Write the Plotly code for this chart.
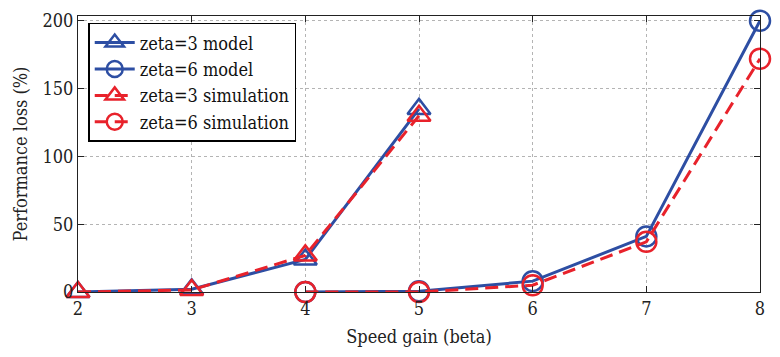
import plotly.graph_objects as go

beta_z3 = [2, 3, 4, 5]
z3_model = [0, 2, 24, 135]
z3_sim = [0, 1.5, 27, 130]

beta_z6 = [4, 5, 6, 7, 8]
z6_model = [0, 0.5, 8, 41, 200]
z6_sim = [0, 0, 5, 37, 172]

names = ["zeta=3 model", "zeta=6 model", "zeta=3 simulation", "zeta=6 simulation"]
x_ticks = [2, 3, 4, 5, 6, 7, 8]
y_ticks = [0, 50, 100, 150, 200]

BLUE = "#2d4ea3"
RED = "#e8222b"
FONT = "DejaVu Serif Condensed, DejaVu Serif"
TXT = "#222"

fig = go.Figure()
fig.add_trace(go.Scatter(x=beta_z3, y=z3_model, name=names[0], mode="lines+markers",
                         line=dict(color=BLUE, width=3),
                         marker=dict(symbol="triangle-up-open", size=20, color=BLUE, line=dict(width=2.5, color=BLUE)),
                         cliponaxis=False))
fig.add_trace(go.Scatter(x=beta_z6, y=z6_model, name=names[1], mode="lines+markers",
                         line=dict(color=BLUE, width=3),
                         marker=dict(symbol="circle-open", size=20, color=BLUE, line=dict(width=2.5, color=BLUE)),
                         cliponaxis=False))
fig.add_trace(go.Scatter(x=beta_z3, y=z3_sim, name=names[2], mode="lines+markers",
                         line=dict(color=RED, width=3, dash="13px,7px"),
                         marker=dict(symbol="triangle-up-open", size=20, color=RED, line=dict(width=2.5, color=RED)),
                         cliponaxis=False))
fig.add_trace(go.Scatter(x=beta_z6, y=z6_sim, name=names[3], mode="lines+markers",
                         line=dict(color=RED, width=3, dash="13px,7px"),
                         marker=dict(symbol="circle-open", size=20, color=RED, line=dict(width=2.5, color=RED)),
                         cliponaxis=False))

axis_common = dict(
    showline=True, linecolor="#222", linewidth=1.2, mirror="ticks",
    ticks="inside", ticklen=6, tickcolor="#222", tickwidth=1,
    showgrid=True, gridcolor="#b4b4b4", griddash="dot", gridwidth=1,
    zeroline=False, tickfont=dict(family=FONT, size=18, color=TXT),
)

fig.update_xaxes(range=[2, 8], tickvals=x_ticks, ticktext=[str(v) for v in x_ticks],
                 title=dict(text="Speed gain (beta)", font=dict(family=FONT, size=18, color=TXT), standoff=12),
                 **axis_common)
fig.update_yaxes(range=[0, 203.5], tickvals=y_ticks, ticktext=[str(v) for v in y_ticks],
                 title=dict(text="Performance loss (%)", font=dict(family=FONT, size=18, color=TXT), standoff=10),
                 **axis_common)

fig.update_layout(
    width=780, height=357,
    margin=dict(l=78, r=20, t=10, b=65),
    plot_bgcolor="white", paper_bgcolor="white",
    font=dict(family=FONT, size=18, color=TXT),
    legend=dict(x=0.015, y=0.975, xanchor="left", yanchor="top",
                bgcolor="white", bordercolor="black", borderwidth=1.5,
                font=dict(family=FONT, size=18, color="#111"),
                tracegroupgap=0, itemwidth=40),
    showlegend=True,
)

fig.write_html("out.html")
